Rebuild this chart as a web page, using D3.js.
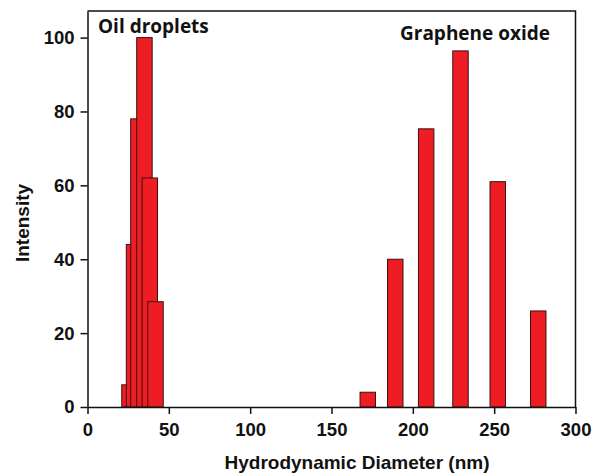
<!DOCTYPE html>
<html>
<head>
<meta charset="utf-8">
<script src="https://cdn.jsdelivr.net/npm/d3@7"></script>
<style>
  body { margin: 0; background: #fff; }
  svg { display: block; }
  .axis text { font-family: "Liberation Sans", Arial, sans-serif; font-weight: bold; font-size: 18.5px; fill: #111; }
  .axis path, .axis line { stroke: #111; stroke-width: 1.5; }
</style>
</head>
<body>
<svg id="chart" width="601" height="475"></svg>
<script>
// Oil droplet peak (hydrodynamic diameter in nm, intensity)
const oilDiameters = [25.8, 28.6, 31.3, 35.0, 38.3, 41.8];
const oilIntensity = [6, 44, 78, 100, 62, 28.5];

// Graphene oxide peak
const goDiameters = [172.3, 189.2, 208.2, 229.3, 252.2, 277.1];
const goIntensity = [4, 40, 75.3, 96.4, 61, 26];

const xTicks = [0, 50, 100, 150, 200, 250, 300];
const yTicks = [0, 20, 40, 60, 80, 100];

const BAR_W = 9.5; // bin width in nm

const svg = d3.select("#chart");
const margin = { top: 11, right: 25.5, bottom: 68, left: 87.5 };
const width = 601 - margin.left - margin.right;
const height = 475 - margin.top - margin.bottom;

const g = svg.append("g").attr("transform", `translate(${margin.left},${margin.top})`);

const x = d3.scaleLinear().domain([0, 300]).range([0, width]);
const y = d3.scaleLinear().domain([0, 107.2]).range([height, 0]);

const bars = [
  ...oilDiameters.map((d, i) => ({ d, v: oilIntensity[i] })),
  ...goDiameters.map((d, i) => ({ d, v: goIntensity[i] })),
];

g.selectAll(".bar")
  .data(bars)
  .enter()
  .append("rect")
  .attr("class", "bar")
  .attr("x", (b) => x(b.d - BAR_W / 2))
  .attr("width", (b) => x(b.d + BAR_W / 2) - x(b.d - BAR_W / 2))
  .attr("y", (b) => y(b.v))
  .attr("height", (b) => height - y(b.v))
  .attr("fill", "#ee1d24")
  .attr("stroke", "#3a1010")
  .attr("stroke-width", 1);

// frame (top + right)
g.append("path")
  .attr("d", `M0,0H${width}V${height}`)
  .attr("fill", "none")
  .attr("stroke", "#111")
  .attr("stroke-width", 1.5);

g.append("g")
  .attr("class", "axis")
  .attr("transform", `translate(0,${height})`)
  .call(d3.axisBottom(x).tickValues(xTicks).tickSize(7).tickPadding(9).tickSizeOuter(0));

g.append("g")
  .attr("class", "axis")
  .call(d3.axisLeft(y).tickValues(yTicks).tickSize(7).tickPadding(6).tickSizeOuter(0));

svg.append("text")
  .attr("x", 357)
  .attr("y", 469)
  .attr("text-anchor", "middle")
  .style("font-family", "'Liberation Sans', Arial, sans-serif")
  .style("font-weight", "bold")
  .style("font-size", "19px")
  .style("fill", "#111")
  .text("Hydrodynamic Diameter (nm)");

svg.append("text")
  .attr("transform", "translate(29,223) rotate(-90)")
  .attr("text-anchor", "middle")
  .style("font-family", "'Liberation Sans', Arial, sans-serif")
  .style("font-weight", "bold")
  .style("font-size", "19px")
  .style("fill", "#111")
  .text("Intensity");

const labelStyle = (t) =>
  t.style("font-family", "'Open Sans', sans-serif")
    .style("font-weight", "bold")
    .style("font-size", "19px")
    .style("fill", "#111");

svg.append("text").attr("x", 98).attr("y", 33).call(labelStyle).text("Oil droplets");
svg.append("text").attr("x", 400).attr("y", 39.5).call(labelStyle).text("Graphene oxide");
</script>
</body>
</html>
